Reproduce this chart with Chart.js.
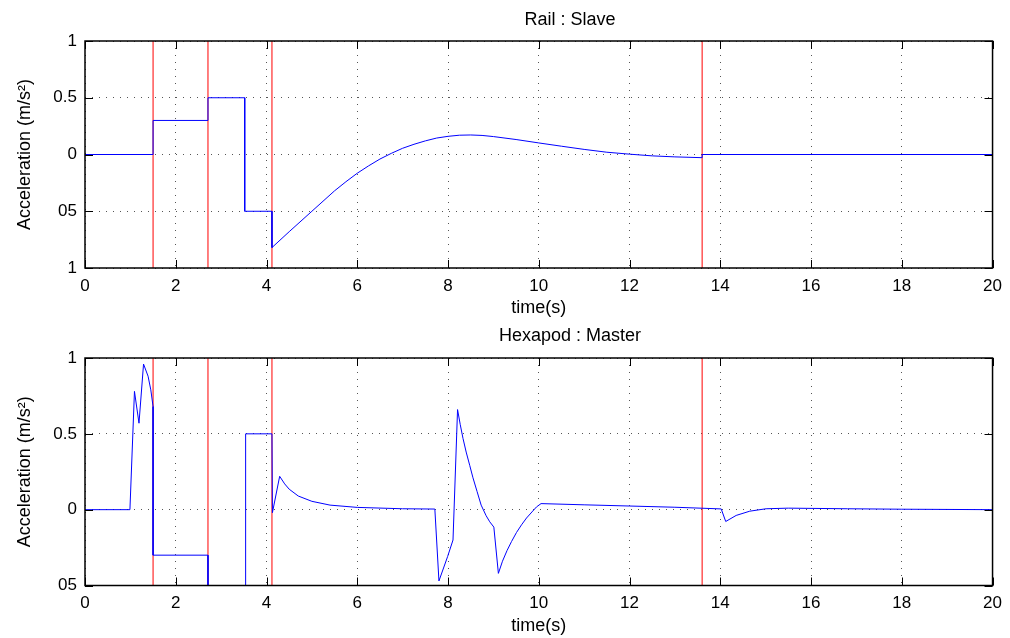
<!DOCTYPE html>
<html><head><meta charset="utf-8">
<script src="https://cdn.jsdelivr.net/npm/chart.js@4/dist/chart.umd.min.js"></script>
<style>
html,body{margin:0;padding:0;background:#fff;width:1010px;height:638px;overflow:hidden}
canvas{position:absolute;left:0}
#c1{top:0}
#c2{top:319px}
</style></head><body>
<canvas id="c1" width="1010" height="319"></canvas>
<canvas id="c2" width="1010" height="319"></canvas>
<script>
// ---------- data ----------
const eventTimes = [1.5, 2.71, 4.12, 13.6];
const xTickValues = [0, 2, 4, 6, 8, 10, 12, 14, 16, 18, 20];
const xTickLabels = ['0', '2', '4', '6', '8', '10', '12', '14', '16', '18', '20'];

const railTitle = 'Rail : Slave';
const railTime  = [0, 1.5, 1.5, 2.71, 2.71, 3.52, 3.52, 4.12, 4.12, 4.5, 5.0, 5.5, 5.75, 6.0, 6.25, 6.5, 6.75, 7.0, 7.25, 7.5, 7.75, 8.0, 8.25, 8.5, 8.75, 9.0, 9.5, 10.0, 10.5, 11.0, 11.5, 12.0, 12.5, 13.0, 13.6, 13.6, 20];
const railAccel = [0, 0, 0.3, 0.3, 0.5, 0.5, -0.5, -0.5, -0.82, -0.68, -0.50, -0.32, -0.24, -0.165, -0.10, -0.04, 0.01, 0.055, 0.09, 0.12, 0.145, 0.16, 0.17, 0.172, 0.168, 0.158, 0.132, 0.102, 0.073, 0.045, 0.02, 0.003, -0.012, -0.021, -0.028, 0, 0];
const railYTicks = [-1, -0.5, 0, 0.5, 1];
const railYTickLabels = ['1', '05', '0', '0.5', '1'];

const hexTitle = 'Hexapod : Master';
const hexTime  = [0, 0.99, 1.09, 1.19, 1.29, 1.39, 1.45, 1.5, 1.5, 2.71, 2.71, 3.54, 3.54, 4.12, 4.13, 4.29, 4.4, 4.5, 4.7, 5.0, 5.4, 6.0, 7.0, 7.71, 7.80, 7.99, 8.11, 8.21, 8.27, 8.33, 8.40, 8.48, 8.55, 8.64, 8.73, 8.84, 8.92, 9.01, 9.11, 9.2, 9.3, 9.4, 9.51, 9.62, 9.73, 9.85, 9.95, 10.05, 11.0, 12.0, 13.0, 14.02, 14.12, 14.35, 14.65, 15.01, 15.5, 16.8, 18.0, 20.0];
const hexAccel = [0, 0, 0.78, 0.57, 0.96, 0.88, 0.79, 0.68, -0.3, -0.3, -0.5, -0.5, 0.5, 0.5, -0.02, 0.22, 0.17, 0.135, 0.09, 0.055, 0.03, 0.015, 0.006, 0.004, -0.47, -0.31, -0.2, 0.66, 0.56, 0.47, 0.38, 0.29, 0.21, 0.12, 0.03, -0.04, -0.08, -0.115, -0.42, -0.34, -0.27, -0.21, -0.15, -0.1, -0.055, -0.015, 0.018, 0.04, 0.032, 0.024, 0.016, 0.005, -0.078, -0.038, -0.01, 0.006, 0.01, 0.006, 0.003, 0];
const hexYTicks = [-0.5, 0, 0.5, 1];
const hexYTickLabels = ['05', '0', '0.5', '1'];

const xTitle = 'time(s)';
const yTitle = 'Acceleration (m/s\u00B2)';

// ---------- style ----------
const FONT = "'Liberation Sans', Arial, Helvetica, sans-serif";
const TICK_LEN = 8;

const framePlugin = {
  id: 'frame',
  afterDraw(chart, args, opts) {
    const {ctx, chartArea: {left, right, top, bottom}, scales: {x, y}} = chart;
    ctx.save();
    ctx.strokeStyle = '#000';
    ctx.lineWidth = 1;
    ctx.beginPath();
    x.ticks.forEach(t => {
      const px = Math.round(x.getPixelForValue(t.value)) + 0.5;
      ctx.moveTo(px, bottom); ctx.lineTo(px, bottom - TICK_LEN);
      ctx.moveTo(px, top); ctx.lineTo(px, top + TICK_LEN);
    });
    y.ticks.forEach(t => {
      const py = Math.round(y.getPixelForValue(t.value)) + 0.5;
      ctx.moveTo(left, py); ctx.lineTo(left + TICK_LEN, py);
      ctx.moveTo(right, py); ctx.lineTo(right - TICK_LEN, py);
    });
    ctx.stroke();
    ctx.lineWidth = 1.5;
    ctx.strokeRect(left, top, right - left, bottom - top);
    ctx.fillStyle = '#000';
    ctx.font = '18px ' + FONT;
    ctx.textAlign = 'center';
    ctx.textBaseline = 'middle';
    ctx.fillText(opts.text, opts.x, opts.y);
    ctx.restore();
  }
};

function makeChart(id, title, times, values, yTicks, yLabels, cfg) {
  const yMin = yTicks[0], yMax = yTicks[yTicks.length - 1];
  const datasets = [{
    data: times.map((t, i) => ({x: t, y: values[i]})),
    borderColor: '#0000ff', borderWidth: 1, pointRadius: 0, tension: 0, fill: false
  }];
  eventTimes.forEach(t => datasets.push({
    data: [{x: t, y: yMin}, {x: t, y: yMax}],
    borderColor: '#ff0000', borderWidth: 1, pointRadius: 0, fill: false
  }));
  return new Chart(document.getElementById(id), {
    type: 'line',
    data: {datasets},
    plugins: [framePlugin],
    options: {
      responsive: false, animation: false, events: [],
      layout: {padding: {top: cfg.padTop, right: 17, bottom: 0, left: 0}},
      plugins: {
        legend: {display: false}, tooltip: {enabled: false}, title: {display: false},
        frame: {text: title, x: 570, y: cfg.titleY}
      },
      scales: {
        x: {
          type: 'linear', min: 0, max: 20,
          afterBuildTicks: s => { s.ticks = xTickValues.map(v => ({value: v})); },
          afterFit: s => { s.height = cfg.xHeight; },
          ticks: {
            padding: 8, color: '#000', font: {family: FONT, size: 17},
            maxRotation: 0, autoSkip: false,
            callback: v => xTickLabels[xTickValues.indexOf(v)]
          },
          grid: {drawTicks: false, color: '#555', lineWidth: 1},
          border: {display: false, dash: [1, 6]},
          title: {display: true, text: xTitle, color: '#000', font: {family: FONT, size: 18}, padding: {top: 0, bottom: cfg.xTitlePad}}
        },
        y: {
          type: 'linear', min: yMin, max: yMax,
          afterBuildTicks: s => { s.ticks = yTicks.map(v => ({value: v})); },
          afterFit: s => { s.width = 85; },
          ticks: {
            padding: 8, color: '#000', font: {family: FONT, size: 17},
            callback: v => yLabels[yTicks.indexOf(v)]
          },
          grid: {drawTicks: false, color: '#555', lineWidth: 1},
          border: {display: false, dash: [1, 6]},
          title: {display: true, text: yTitle, color: '#000', font: {family: FONT, size: 18}, padding: {top: 14, bottom: 0}}
        }
      }
    }
  });
}

makeChart('c1', railTitle, railTime, railAccel, railYTicks, railYTickLabels,
  {padTop: 41, xHeight: 51, titleY: 20, xTitlePad: 0});
makeChart('c2', hexTitle, hexTime, hexAccel, hexYTicks, hexYTickLabels,
  {padTop: 39, xHeight: 52.5, titleY: 17.5, xTitlePad: 1.5});
</script>
</body></html>
